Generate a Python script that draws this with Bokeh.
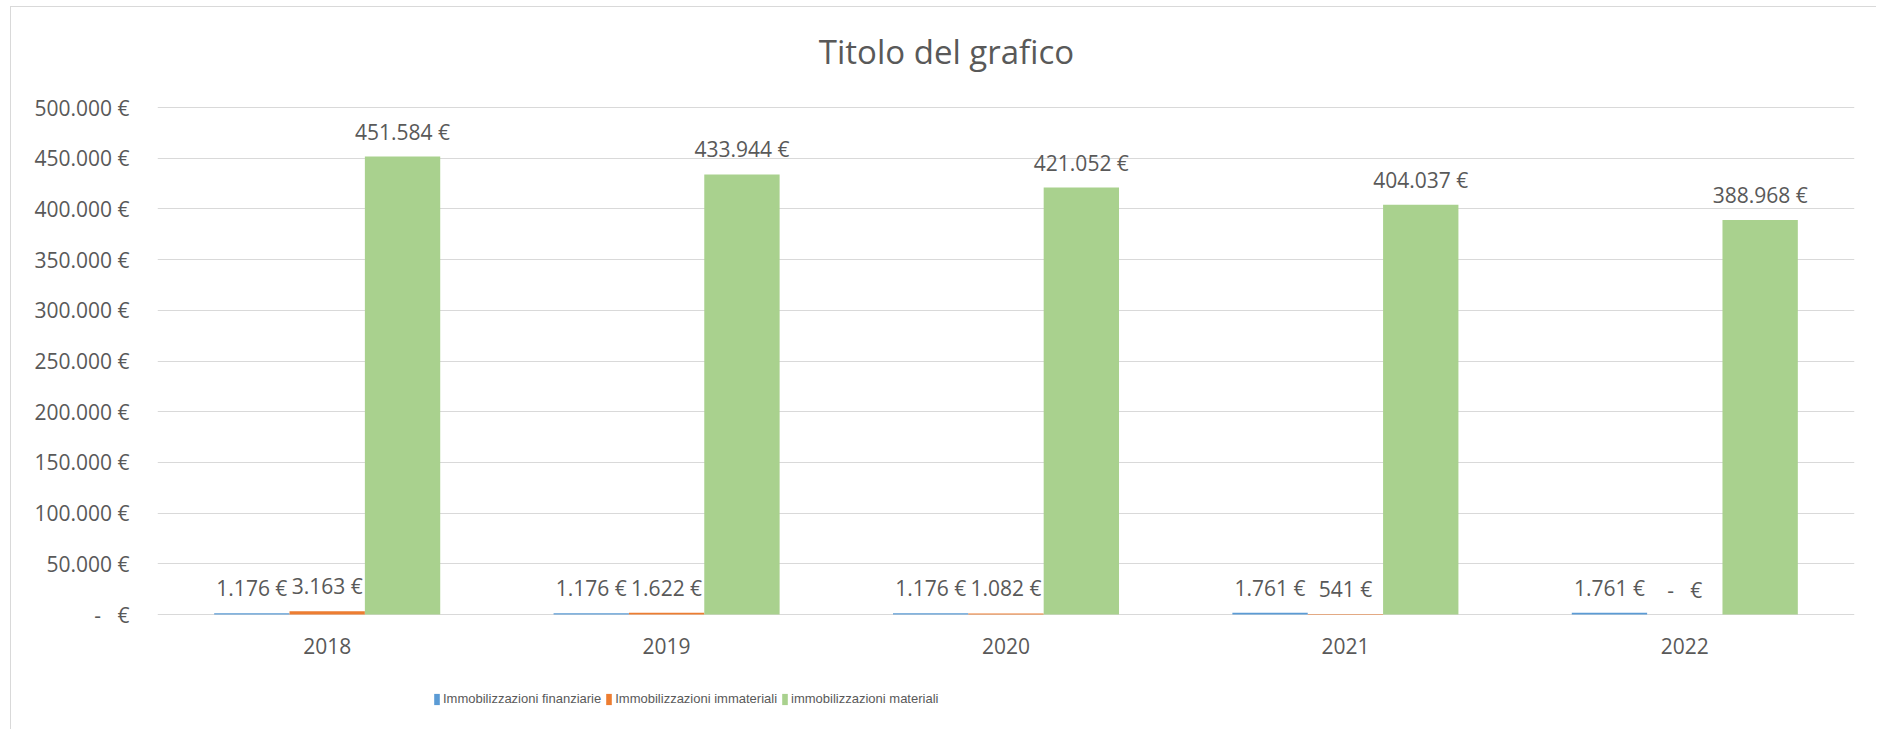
from bokeh.plotting import figure
from bokeh.models import (ColumnDataSource, FactorRange, Range1d, FixedTicker,
                          Legend, LegendItem, Label)
from bokeh.transform import dodge
from bokeh.core.properties import value
from bokeh.embed import file_html
from bokeh.resources import INLINE

# ---- data ----
years = ["2018", "2019", "2020", "2021", "2022"]
finanziarie = [1176, 1176, 1176, 1761, 1761]
immateriali = [3163, 1622, 1082, 541, 0]
materiali = [451584, 433944, 421052, 404037, 388968]
series_names = ["Immobilizzazioni finanziarie", "Immobilizzazioni immateriali",
                "immobilizzazioni materiali"]
y_ticks = [0, 50000, 100000, 150000, 200000, 250000, 300000, 350000, 400000, 450000, 500000]
y_tick_labels = ["-\u00a0\u00a0\u00a0€", "50.000 €", "100.000 €", "150.000 €", "200.000 €",
                 "250.000 €", "300.000 €", "350.000 €", "400.000 €", "450.000 €", "500.000 €"]
title_text = "Titolo del grafico"


def eur(v):
    if v == 0:
        return "-\u00a0\u00a0\u00a0€"
    return f"{v:,}".replace(",", ".") + " €"


colors = ["#5B9BD5", "#ED7D31", "#A9D18E"]
FONT = "Open Sans"
GREY = "#595959"

src = ColumnDataSource(dict(
    years=years,
    zero=[0] * len(years),
    fin=finanziarie, imm=immateriali, mat=materiali,
    fin_l=[eur(v) for v in finanziarie],
    imm_l=[eur(v) for v in immateriali],
    mat_l=[eur(v) for v in materiali],
))

# figure placed at page (11, 7) inside a 1px left/top border.
# The plot frame spans the whole figure height so that title, category labels
# and legend can live inside it; the value axis keeps 0..500.000 at the right place.
W, H = 1866, 723
FRAME_LEFT = 146
FRAME_BOTTOM_BORDER = 6
frame_h = H - FRAME_BOTTOM_BORDER            # 717
px_top_to_max = 100                          # px from frame top to 500.000
px_max_to_zero = 507                         # px between 500.000 and 0
y_max_val = 500000
unit = y_max_val / px_max_to_zero
y_hi = y_max_val + px_top_to_max * unit
y_lo = -(frame_h - px_top_to_max - px_max_to_zero) * unit

p = figure(width=W, height=H, x_range=FactorRange(*years), y_range=Range1d(y_lo, y_hi),
           output_backend="svg", toolbar_location=None,
           min_border_left=FRAME_LEFT, min_border_right=23, min_border_top=0,
           min_border_bottom=FRAME_BOTTOM_BORDER,
           styles={"margin-left": "10px", "margin-top": "6px",
                   "border-left": "1px solid #D9D9D9", "border-top": "1px solid #D9D9D9"})
p.outline_line_color = None
p.background_fill_color = "white"
p.border_fill_color = "white"
p.title.text = ""

# chart title (screen units, relative to the frame's bottom-left corner)
p.add_layout(Label(x=789, y=frame_h - 44, x_units="screen", y_units="screen",
                   text=title_text, text_align="center", text_baseline="middle",
                   text_font=FONT, text_font_size="33px", text_color=GREY))

bw = 0.222
offs = [-bw, 0.0, bw]
keys = ["fin", "imm", "mat"]
renderers = []
for k, off, c in zip(keys, offs, colors):
    r = p.vbar(x=dodge("years", off, range=p.x_range), top=k, width=bw, source=src,
               fill_color=c, line_color=None)
    renderers.append(r)
    p.text(x=dodge("years", off, range=p.x_range), y=k, text=k + "_l", source=src,
           text_align="center", text_baseline="middle", y_offset=-25,
           text_font=value(FONT), text_font_size="21px", text_color=GREY)

# category labels under the zero line
p.text(x="years", y="zero", text="years", source=src, text_align="center",
       text_baseline="middle", y_offset=31, text_font=value(FONT),
       text_font_size="21px", text_color=GREY)
p.xaxis.visible = False

# y axis
p.yaxis.ticker = FixedTicker(ticks=y_ticks)
p.yaxis.major_label_overrides = {t: l for t, l in zip(y_ticks, y_tick_labels)}
p.yaxis.axis_line_color = None
p.yaxis.major_tick_line_color = None
p.yaxis.minor_tick_line_color = None
p.yaxis.major_tick_out = 0
p.yaxis.major_label_standoff = 28
p.yaxis.major_label_text_font = FONT
p.yaxis.major_label_text_font_size = "21px"
p.yaxis.major_label_text_color = GREY

p.xgrid.grid_line_color = None
p.ygrid.grid_line_color = "#D9D9D9"
p.ygrid.grid_line_width = 1

legend = Legend(items=[LegendItem(label=n, renderers=[r]) for n, r in zip(series_names, renderers)],
                location=(276, 18), orientation="horizontal", glyph_width=7, glyph_height=14,
                label_standoff=3, padding=0, margin=0, spacing=4,
                border_line_color=None, background_fill_alpha=0,
                label_text_font="Liberation Sans", label_text_font_size="13px",
                label_text_color=GREY)
p.add_layout(legend)

open("out.html", "w").write(file_html(p, INLINE))
